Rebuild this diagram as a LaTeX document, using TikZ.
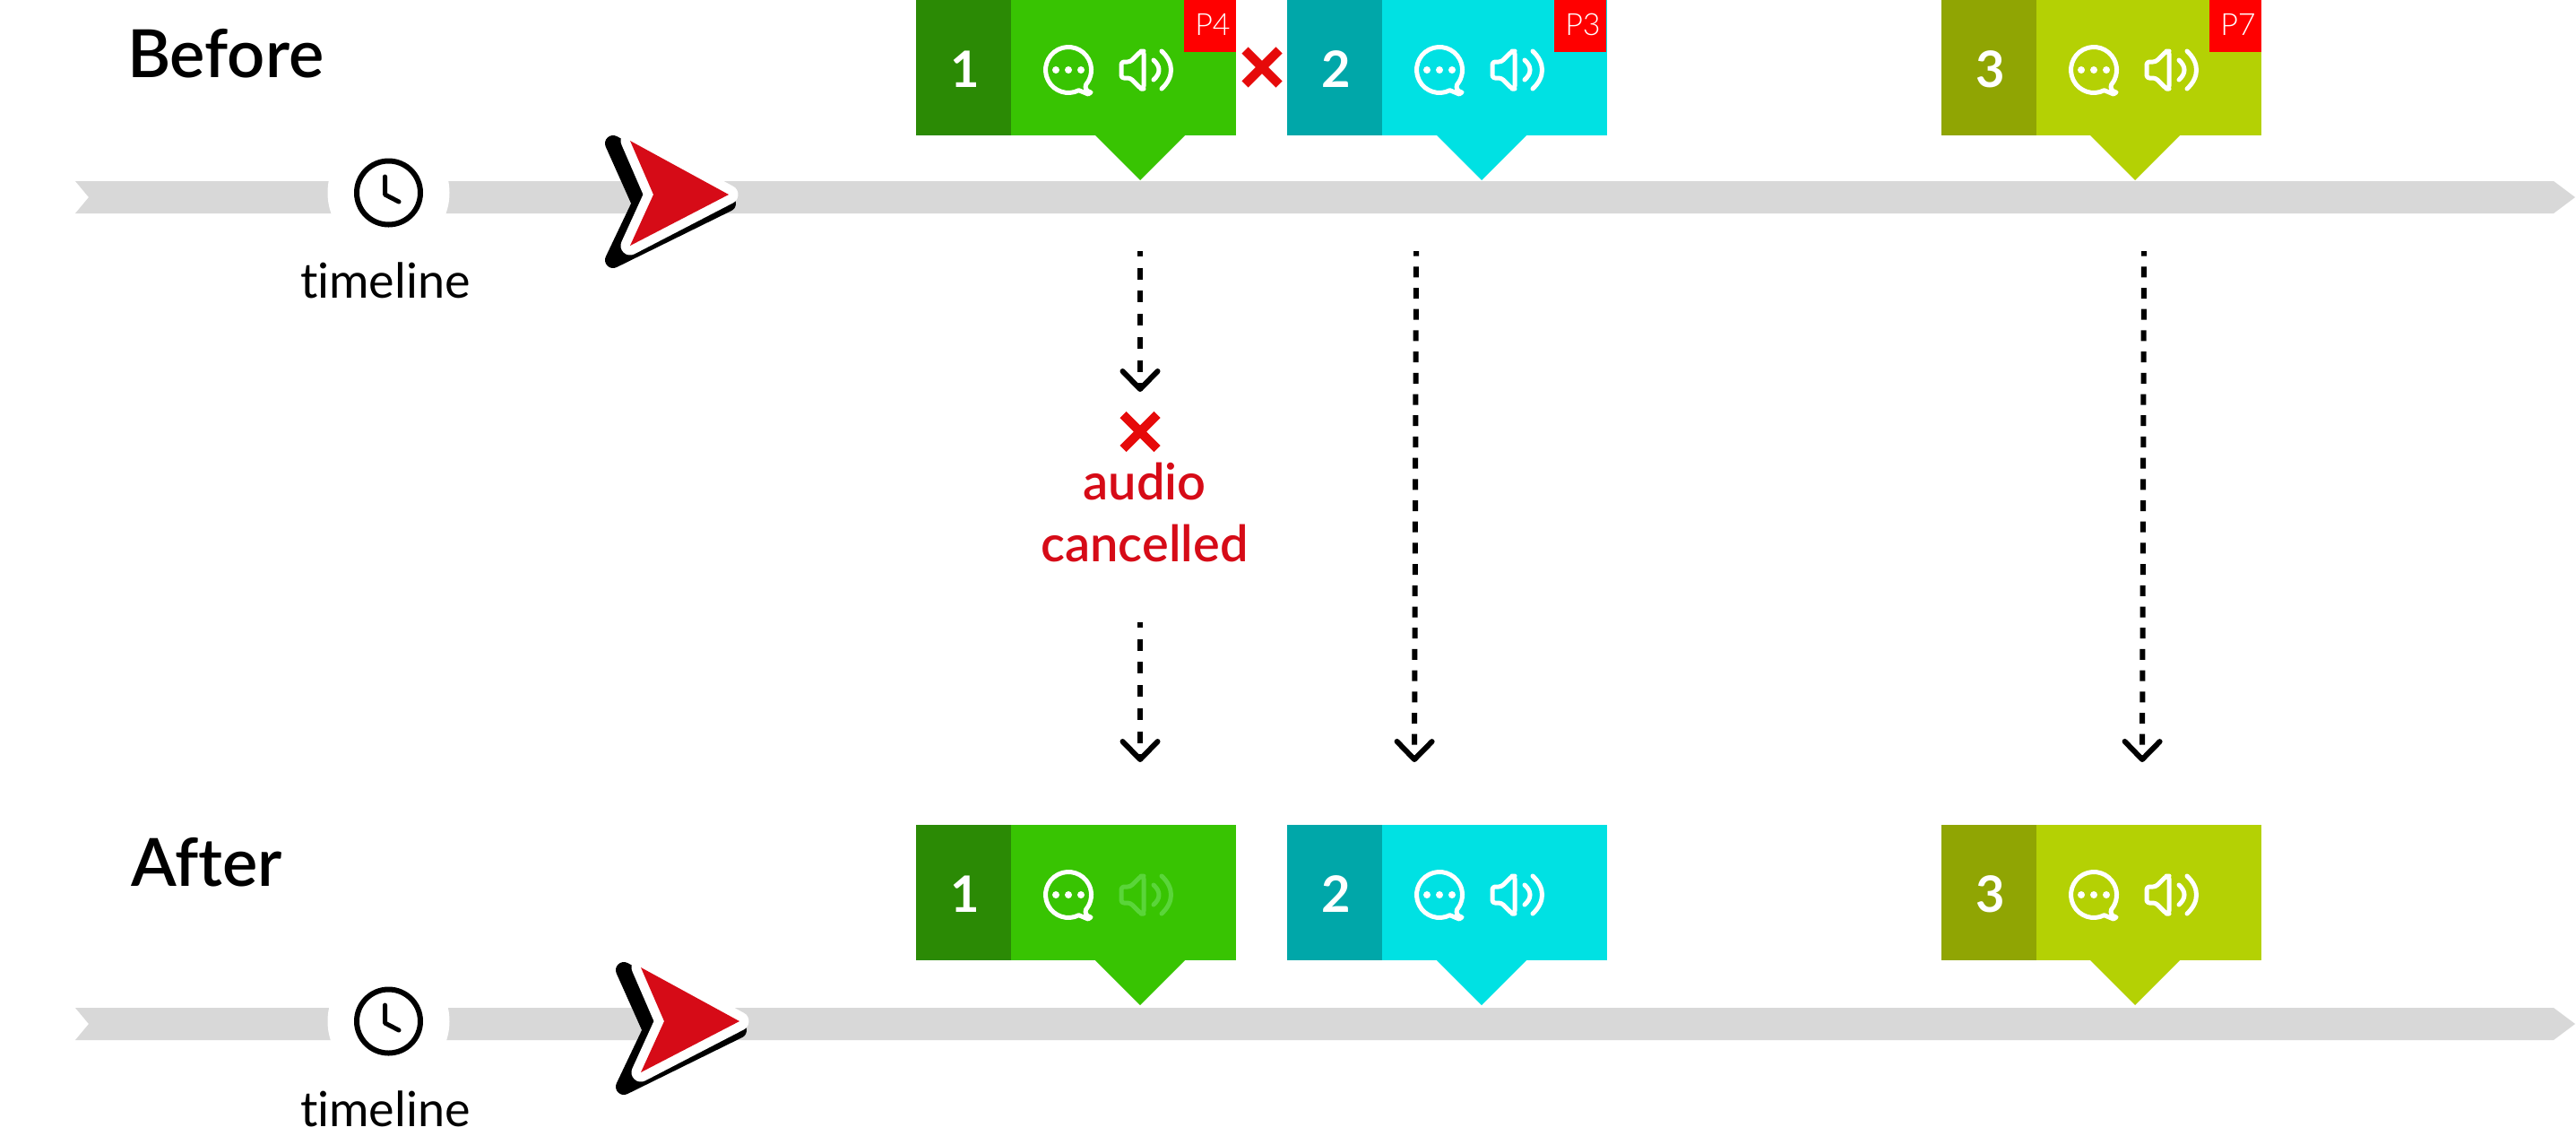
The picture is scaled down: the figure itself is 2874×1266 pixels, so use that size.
\documentclass[tikz,border=0pt]{standalone}
\usepackage{fontspec}
\setmainfont[Ligatures=NoCommon]{Lato}
\newfontfamily\lightf[Ligatures=NoCommon,UprightFont={* Light}]{Lato}
\newfontfamily\medf[Ligatures=NoCommon,UprightFont={* Semibold}]{Lato}
\newfontfamily\boldf[Ligatures=NoCommon,UprightFont={* Bold}]{Lato}
\usetikzlibrary{arrows.meta}
\definecolor{bargray}{HTML}{D8D8D8}
\definecolor{greenL}{HTML}{38C402}
\definecolor{greenD}{HTML}{2B8A05}
\definecolor{cyanL}{HTML}{00E1E3}
\definecolor{cyanD}{HTML}{00A7A9}
\definecolor{limeL}{HTML}{B4D104}
\definecolor{limeD}{HTML}{90A503}
\definecolor{badge}{HTML}{FF0000}
\definecolor{cursorred}{HTML}{D60B17}
\definecolor{crossred}{HTML}{E60A0A}
\definecolor{fadewhite}{HTML}{5AD53A}
\tikzset{
  x=0.5pt,y=-0.5pt,
  txt/.style={inner sep=0pt,outer sep=0pt,anchor=base},
  titletxt/.style={txt,anchor=base west,font=\medf\fontsize{37}{37}\selectfont},
  timetxt/.style={txt,font=\rmfamily\fontsize{27}{27}\selectfont},
  redtxt/.style={txt,text=cursorred,font=\medf\fontsize{28}{28}\selectfont},
  digit/.style={txt,text=white,font=\boldf\fontsize{28}{28}\selectfont},
  prio/.style={txt,text=white,font=\lightf\fontsize{17}{17}\selectfont},
  dashedA/.style={line width=3pt,dash pattern=on 6.5pt off 6.35pt,dash phase=3.5pt,
    -{Straight Barb[length=10pt,width=19.5pt,line width=3pt,round]}},
  dashedB/.style={line width=3pt,dash pattern=on 6pt off 5.85pt,dash phase=3.2pt,
    -{Straight Barb[length=10pt,width=19.5pt,line width=3pt,round]}},
  crossmark/.style={draw=crossred,line width=5pt},
  iconline/.style={line width=2.5pt,line join=round,line cap=round},
}
% name, left, top, pointer tip x, light, dark, digit, speaker colour
\newcommand{\storycard}[8]{%
  \fill[#5] (#2,#3) rectangle ++(357,151);
  \fill[#5] (#4-50,#3+151) -- (#4,#3+201) -- (#4+50,#3+151) -- cycle;
  \fill[#6] (#2,#3) rectangle ++(106,151);
  \node[digit] (#1num) at (#2+55,#3+97) {#7};
  \begin{scope}[shift={(#2+170,#3+78)},draw=white,iconline]
    \draw (11.6,22.7) arc[start angle=-63,end angle=-400,radius=12.75pt]
      .. controls (18,20) and (20,24) .. (25,25) -- (22,27) -- cycle;
    \fill[white] (-14,0) circle[radius=4] (0,0) circle[radius=4] (14,0) circle[radius=4];
  \end{scope}
  \begin{scope}[shift={(#2+226,#3+78)},draw=#8,iconline]
    \draw[rounded corners=1.5pt] (3,-9) -- (13,-9) -- (25,-21) -- (28,-21) -- (28,21) -- (25,21) -- (13,9) -- (3,9) -- cycle;
    \draw (39,-11) .. controls (47,-4) and (47,4) .. (39,11);
    \draw (48,-21) .. controls (62,-8) and (62,8) .. (48,21);
  \end{scope}
}
\newcommand{\prioritybadge}[3]{% name,left,label
  \fill[badge] (#2,0) rectangle ++(58,58);
  \node[prio] (#1) at (#2+32,39) {#3};
}
% name, bar centre y, clock centre y, dx, dy
\newcommand{\timelinebar}[5]{%
  \fill[bargray] (84,#2-18) -- (2849,#2-18) -- (2873,#2) -- (2849,#2+18) -- (84,#2+18) -- (99,#2) -- cycle;
  \fill[white] (433.5,#3) circle[radius=68];
  \draw[line width=3pt,black] (433.5,#3) circle[radius=35.5];
  \draw[line width=2.5pt,line cap=round,line join=round] (429.5,#3-18) -- (429.5,#3+2) -- (445,#3+10);
  \begin{scope}[shift={(#4,#5)}]
    \draw[black,fill=black,line width=9pt,line join=round] (684,160) -- (714,227) -- (684,290) -- (812,227) -- cycle;
    \draw[white,fill=white,line width=10.5pt,line join=round] (703,157) -- (729,217) -- (703,274) -- (813,217) -- cycle;
    \fill[cursorred] (703,157) -- (729,217) -- (703,274) -- (813,217) -- cycle;
  \end{scope}
  \node[timetxt] (#1) at (430,#3+117) {timeline};
}
\begin{document}
\begin{tikzpicture}
\useasboundingbox (0,0) rectangle (2874,1266);
\fill[white] (0,0) rectangle (2874,1266);

% Before
\timelinebar{tlA}{220}{215}{0}{0}
\node[titletxt] (before) at (142,86) {Before};
\storycard{a}{1022}{0}{1272}{greenL}{greenD}{1}{white}
\storycard{b}{1436}{0}{1653}{cyanL}{cyanD}{2}{white}
\storycard{c}{2166}{0}{2382}{limeL}{limeD}{3}{white}
\prioritybadge{pA}{1321}{P4}
\prioritybadge{pB}{1734}{P3}
\prioritybadge{pC}{2465}{P7}
\draw[crossmark] (1389,56) -- (1427,94) (1427,56) -- (1389,94);

% After
\timelinebar{tlB}{1142}{1139}{12}{922}
\node[titletxt] (after) at (146,988) {After};
\storycard{d}{1022}{920}{1272}{greenL}{greenD}{1}{fadewhite}
\storycard{e}{1436}{920}{1653}{cyanL}{cyanD}{2}{white}
\storycard{f}{2166}{920}{2382}{limeL}{limeD}{3}{white}

% Cancelled label
\draw[crossmark] (1253,462.5) -- (1291,500.5) (1291,462.5) -- (1253,500.5);
\node[redtxt] (audio) at (1277,557) {audio};
\node[redtxt] (cancelled) at (1277,626) {cancelled};

% Connectors
\coordinate (a1) at (1272,280);
\coordinate (a2) at (1272,437);
\coordinate (a3) at (1272,694);
\coordinate (a4) at (1272,850);
\coordinate (b1) at (1580,280);
\coordinate (b2) at (1578,850);
\coordinate (c1) at (2392,280);
\coordinate (c2) at (2390,850);
\draw[dashedA] (a1) -- (a2);
\draw[dashedA] (a3) -- (a4);
\draw[dashedB] (b1) -- (b2);
\draw[dashedB] (c1) -- (c2);
\end{tikzpicture}
\end{document}
